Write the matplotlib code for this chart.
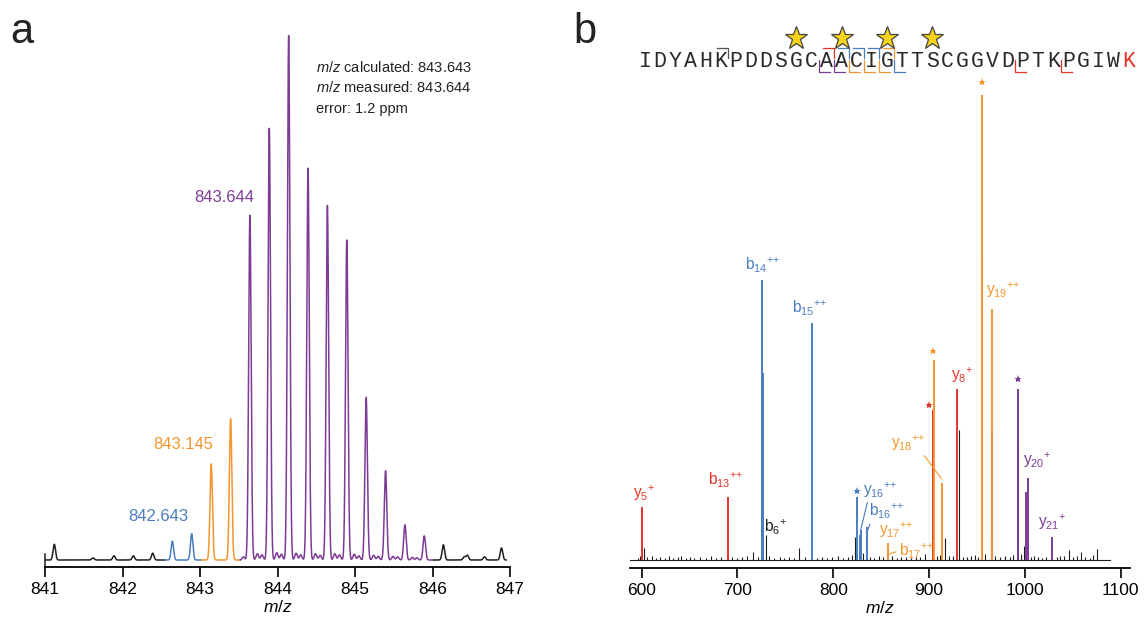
import numpy as np
import matplotlib.pyplot as plt
from matplotlib import rcParams
from matplotlib.lines import Line2D
from matplotlib.transforms import offset_copy

rcParams["font.family"] = "Liberation Sans"
rcParams["mathtext.fontset"] = "custom"
rcParams["mathtext.rm"] = "Liberation Sans"
rcParams["mathtext.it"] = "Liberation Sans:italic"
rcParams["mathtext.bf"] = "Liberation Sans:bold"
BLUE = "#4a7cc0"; ORANGE = "#f4962f"; RED = "#e5352a"; PURPLE = "#7e3b96"; BLACK = "#1e1e1e"; GRAY = "#555555"

# ---------------- panel a: isotope cluster (m/z, relative intensity) ----------------
a_black1_mz = [841.12, 841.62, 841.89, 842.14, 842.39]
a_black1_int = [3.0, 0.4, 0.8, 0.8, 1.3]
a_blue_mz = [842.643, 842.893]
a_blue_int = [3.6, 5.0]
a_orange_mz = [843.145, 843.395]
a_orange_int = [18.3, 26.9]
a_purple_mz = [843.644, 843.894, 844.144, 844.394, 844.644, 844.894, 845.144, 845.394, 845.644, 845.894]
a_purple_int = [65.7, 82.3, 100.0, 74.7, 67.6, 61.0, 31.0, 17.0, 6.7, 4.6]
a_purple_minor_mz = [843.56, 843.74, 843.80, 843.99, 844.05, 844.24, 844.30, 844.49, 844.55,
                     844.74, 844.80, 844.99, 845.05, 845.24, 845.30, 845.49, 845.55, 845.74, 845.80]
a_purple_minor_int = [0.6, 1.2, 1.0, 1.4, 1.1, 1.3, 1.0, 1.2, 0.9, 1.2, 1.0, 1.1, 0.8, 0.9, 0.7,
                      0.7, 0.6, 0.5, 0.4]
a_black2_mz = [846.14, 846.41, 846.45, 846.67, 846.89]
a_black2_int = [2.9, 0.6, 0.9, 0.6, 2.3]
a_ticks = [841, 842, 843, 844, 845, 846, 847]

# ---------------- panel b: MS/MS spectrum (m/z, relative intensity) ----------------
b_red_mz = [600.0, 689.8, 903.8, 928.8]
b_red_int = [11.5, 13.6, 32.3, 36.8]
b_blue_mz = [725.9, 726.2, 777.5, 825.1, 827.9, 829.0, 834.9]
b_blue_int = [60.2, 40.2, 51.0, 13.5, 5.4, 6.5, 7.1]
b_orange_mz = [856.8, 904.6, 913.5, 955.3, 955.6, 965.4, 965.7]
b_orange_int = [3.6, 43.0, 16.6, 66.0, 100.0, 28.0, 54.0]
b_purple_mz = [992.3, 992.5, 1001.1, 1002.9, 1028.6]
b_purple_int = [25.0, 36.8, 14.6, 17.6, 4.9]
b_black_mz = [596, 598.5, 602.4, 606, 611, 615, 619, 624, 628, 633, 638, 641, 646, 650, 655, 661,
              667, 672, 678, 683, 694, 699, 705, 710, 716.2, 721, 729.4, 733, 738, 744, 749, 754,
              759, 764.2, 770, 783, 788, 793, 799, 805, 810, 815, 820, 822.5, 831, 838, 843, 848,
              852, 861, 866, 871, 876, 881, 886, 891, 896, 904.2, 908, 911, 916.6, 921, 925, 931.2,
              935, 940, 944, 948, 951, 958.5, 964.3, 969, 974, 979, 984, 988, 996, 999, 1006, 1010,
              1014, 1018, 1022, 1033, 1037, 1041, 1046.4, 1050, 1054, 1058.2, 1063, 1068, 1071,
              1075.6]
b_black_int = [0.5, 0.9, 2.6, 0.6, 0.8, 0.5, 0.7, 0.4, 0.9, 0.5, 0.6, 0.8, 0.5, 0.7, 0.4, 0.6,
               0.5, 0.8, 0.4, 0.6, 0.7, 0.5, 0.6, 0.9, 1.7, 0.6, 5.4, 0.8, 0.5, 0.6, 0.4, 0.7,
               0.5, 2.6, 0.6, 0.5, 0.7, 0.4, 0.6, 0.8, 0.5, 0.7, 1.0, 5.0, 1.5, 0.6, 0.5, 0.8,
               0.6, 0.9, 0.5, 0.7, 0.6, 0.5, 0.8, 0.6, 1.2, 31.0, 0.9, 1.1, 4.7, 0.8, 0.9, 28.0,
               0.7, 0.6, 0.8, 1.0, 0.7, 1.2, 5.0, 0.9, 0.6, 0.8, 0.7, 1.0, 1.3, 3.0, 0.7, 0.8,
               0.6, 0.5, 0.7, 0.6, 0.9, 0.8, 2.2, 0.6, 0.9, 1.7, 0.6, 0.5, 1.0, 2.4]
b_ticks = [600, 700, 800, 900, 1000, 1100]

# fragment labels: text, peak m/z, peak intensity, colour
PP = r"{}^{{+}{+}}"
P1 = r"{}^{+}"
ion_text = [r"$\mathrm{y}_{5}" + P1 + "$", r"$\mathrm{b}_{13}" + PP + "$", r"$\mathrm{b}_{14}" + PP + "$",
            r"$\mathrm{b}_{15}" + PP + "$", r"$\mathrm{b}_{6}" + P1 + "$", r"$\mathrm{y}_{17}" + PP + "$",
            r"$\mathrm{y}_{8}" + P1 + "$", r"$\mathrm{y}_{19}" + PP + "$", r"$\mathrm{y}_{20}" + P1 + "$",
            r"$\mathrm{y}_{21}" + P1 + "$"]
ion_mz = [600.0, 689.8, 725.9, 777.5, 729.4, 856.8, 928.8, 965.7, 1002.9, 1028.6]
ion_int = [11.5, 13.6, 60.2, 51.0, 5.4, 3.6, 36.8, 54.0, 17.6, 4.9]
ion_col = [RED, RED, BLUE, BLUE, BLACK, ORANGE, RED, ORANGE, PURPLE, PURPLE]
# labels with leader lines
lead_text = [r"$\mathrm{y}_{16}" + PP + "$", r"$\mathrm{b}_{16}" + PP + "$",
             r"$\mathrm{b}_{17}" + PP + "$", r"$\mathrm{y}_{18}" + PP + "$"]
lead_mz = [828.6, 835.5, 858.5, 913.2]
lead_int = [6.5, 6.1, 1.3, 17.4]
lead_col = [BLUE, BLUE, ORANGE, ORANGE]
# starred peaks
star_mz = [825.1, 903.8, 904.6, 955.6, 992.5]
star_int = [13.5, 32.3, 43.0, 100.0, 36.8]
star_col = [BLUE, RED, ORANGE, ORANGE, PURPLE]

SEQ = "IDYAHKPDDSGCAACIGTTSCGGVDPTKPGIWK"
b_frag = [6, 13, 14, 15, 16, 17]
b_frag_col = [GRAY, RED, BLUE, BLUE, BLUE, ORANGE]
y_frag = [5, 8, 16, 17, 18, 19, 20, 21]
y_frag_col = [RED, RED, BLUE, ORANGE, ORANGE, ORANGE, PURPLE, PURPLE]
star_res = [10, 13, 16, 19]

W, H = 1146, 620
fig = plt.figure(figsize=(W / 100, H / 100), dpi=100)
def fx(x): return x / W
def fy(y): return 1 - y / H
def shifted(ax, dx, dy): return offset_copy(ax.transData, fig=fig, x=dx, y=dy, units="dots")

def style_axis(ax, ticks):
    for s in ["top", "right", "left"]:
        ax.spines[s].set_visible(False)
    ax.spines["bottom"].set_linewidth(1.3)
    ax.set_yticks([])
    ax.set_xticks(ticks)
    ax.tick_params(axis="x", direction="out", length=7, width=1.2, labelsize=12.5, pad=4)
    ax.set_xlabel(r"$m/z$", fontsize=12.5, labelpad=1)

# ============ PANEL A ============
ax = fig.add_axes([fx(45), fy(567), 465 / W, 547 / H])
SIG = 0.016
def profile(mzs, ints, lo, hi):
    x = np.linspace(lo, hi, int((hi - lo) * 600) + 1)
    y = np.zeros_like(x)
    for m, h in zip(mzs, ints):
        y += h * np.exp(-0.5 * ((x - m) / SIG) ** 2)
    return x, y

segs = [(a_black1_mz, a_black1_int, 841.0, 842.55, BLACK),
        (a_blue_mz, a_blue_int, 842.55, 843.02, BLUE),
        (a_orange_mz, a_orange_int, 843.02, 843.52, ORANGE),
        (a_purple_mz + a_purple_minor_mz, a_purple_int + a_purple_minor_int, 843.52, 846.02, PURPLE),
        (a_black2_mz, a_black2_int, 846.02, 846.95, BLACK)]
for mzs, ints, lo, hi, c in segs:
    x, y = profile(mzs, ints, lo, hi)
    ax.plot(x, y, color=c, lw=1.1)
ax.plot([841.0, 841.0], [-1.33, 1.2], color=BLACK, lw=1.1, clip_on=False)
ax.set_xlim(841, 847)
ax.set_ylim(-1.333, 102.86)
style_axis(ax, a_ticks)
ax.text(a_purple_mz[0], a_purple_int[0], "843.644", color=PURPLE, fontsize=12, ha="right",
        va="bottom", transform=shifted(ax, 4, 10))
ax.text(a_orange_mz[0], a_orange_int[0], "843.145", color=ORANGE, fontsize=12, ha="center",
        va="bottom", transform=shifted(ax, -28, 12))
ax.text(a_blue_mz[0], a_blue_int[0], "842.643", color=BLUE, fontsize=12, ha="center",
        va="bottom", transform=shifted(ax, -14, 17))
fig.text(fx(316), fy(67), r"$m/z$ calculated: 843.643", fontsize=10.5, va="center", color="#222")
fig.text(fx(316), fy(88), r"$m/z$ measured: 843.644", fontsize=10.5, va="center", color="#222")
fig.text(fx(316), fy(109), "error: 1.2 ppm", fontsize=10.5, va="center", color="#222")
fig.text(fx(22), fy(32), "a", fontsize=30, ha="center", va="center", color="#222")

# ============ PANEL B ============
bx = fig.add_axes([fx(630), fy(568), 500 / W, 548 / H])
bx.plot([588, 1089], [0, 0], color=BLACK, lw=0.8)
bx.vlines(b_black_mz, 0, b_black_int, color=BLACK, lw=0.8)
for mzs, ints, c in [(b_red_mz, b_red_int, RED), (b_blue_mz, b_blue_int, BLUE),
                     (b_orange_mz, b_orange_int, ORANGE), (b_purple_mz, b_purple_int, PURPLE)]:
    bx.vlines(mzs, 0, ints, color=c, lw=1.4)
bx.set_xlim(587.8, 1109.7)
bx.set_ylim(-1.72, 116.1)
style_axis(bx, b_ticks)

LFS = 11.2
ion_off = [(2, 4), (-2, 7), (0, 5), (-2, 5), (10, -2), (9, 3), (5, 4), (11, 9), (9, 8), (0, 5)]
for t, m, h, c, (dx, dy) in zip(ion_text, ion_mz, ion_int, ion_col, ion_off):
    bx.text(m, h, t, color=c, fontsize=LFS, ha="center", va="bottom", transform=shifted(bx, dx, dy))
lead_off = [(20, 40), (19, 20), (27, 3), (-33, 36)]
lead_rel = [(0.15, 0.1), (0.1, 0.2), (0.0, 0.5), (0.85, 0.1)]
for t, m, h, c, (dx, dy), rp in zip(lead_text, lead_mz, lead_int, lead_col, lead_off, lead_rel):
    bx.annotate(t, xy=(m, h), xytext=(dx * 0.72, dy * 0.72), textcoords="offset points",
                color=c, fontsize=LFS, ha="center", va="center",
                arrowprops=dict(arrowstyle="-", color=c, lw=0.8, shrinkA=0, shrinkB=0, relpos=rp))
star_off = [(0, 6), (-4, 5), (-1, 9), (0, 13), (0, 10)]
for m, h, c, (dx, dy) in zip(star_mz, star_int, star_col, star_off):
    bx.plot([m], [h], marker="*", ms=6, color=c, mew=0, clip_on=False, transform=shifted(bx, dx, dy))

# sequence with fragment brackets
X0, STEP = 645.0, 15.12
for i, ch in enumerate(SEQ):
    fig.text(fx(X0 + STEP * i), fy(67), ch, family="Liberation Mono", fontsize=15.5,
             ha="center", va="baseline", color=RED if i == len(SEQ) - 1 else "#2a2a2a")
for n, c in zip(b_frag, b_frag_col):
    xb = X0 + STEP * (n - 0.5)
    fig.add_artist(Line2D([fx(xb - 11), fx(xb), fx(xb)], [fy(47.5), fy(47.5), fy(58)],
                          color=c, lw=0.9, transform=fig.transFigure))
for n, c in zip(y_frag, y_frag_col):
    xb = X0 + STEP * (len(SEQ) - n - 0.5)
    fig.add_artist(Line2D([fx(xb), fx(xb), fx(xb + 11)], [fy(60), fy(71.5), fy(71.5)],
                          color=c, lw=0.9, transform=fig.transFigure))
for i in star_res:
    fig.add_artist(Line2D([fx(X0 + STEP * i)], [fy(38)], marker="*", ms=17, mfc="#fad31c",
                          mec="#444444", mew=0.9, transform=fig.transFigure))
fig.text(fx(585), fy(32), "b", fontsize=30, ha="center", va="center", color="#222")

fig.savefig("out.png", dpi=100, facecolor="white")
